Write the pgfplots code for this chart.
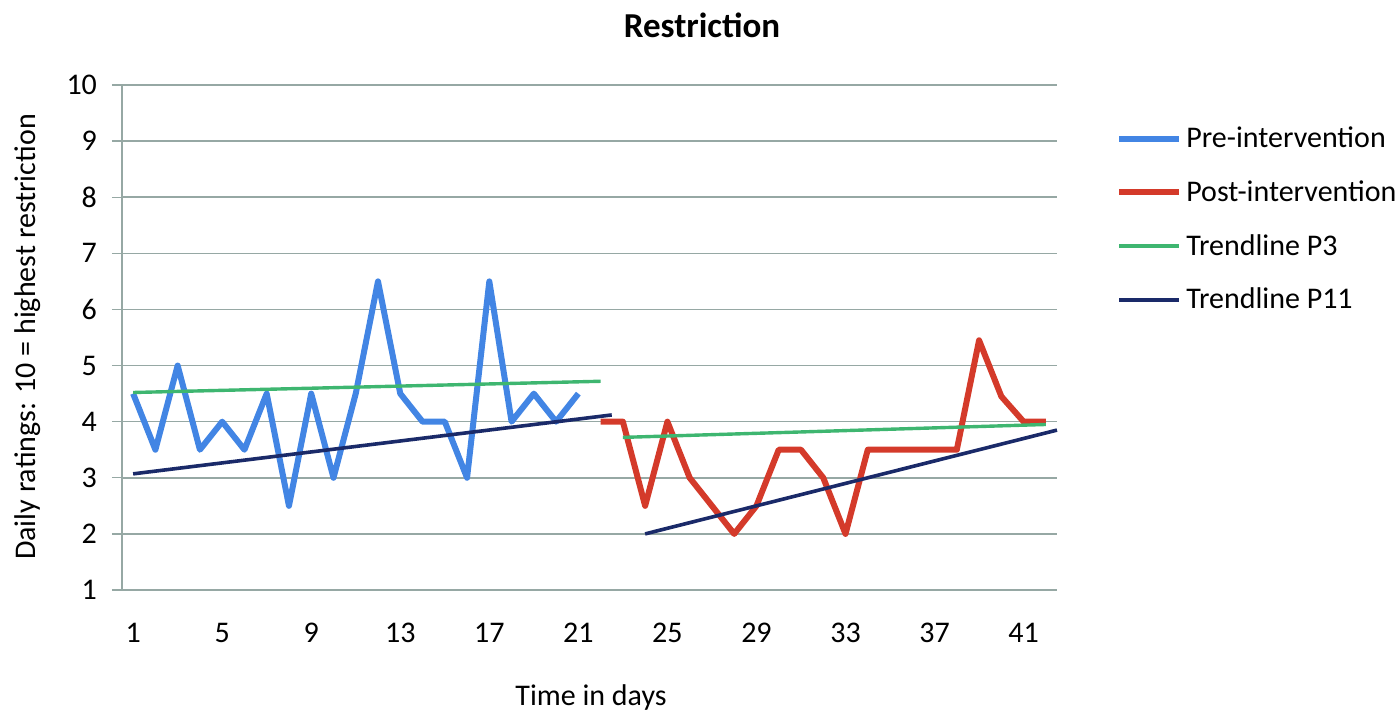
\documentclass[border=0pt]{standalone}
\usepackage{fontspec}
\setmainfont{Carlito}
\usepackage{pgfplots}
\pgfplotsset{compat=1.18}
\definecolor{preblue}{RGB}{66,133,228}
\definecolor{postred}{RGB}{212,58,42}
\definecolor{trgreen}{RGB}{62,182,112}
\definecolor{trnavy}{RGB}{26,42,105}
\definecolor{gridc}{RGB}{150,168,164}
\begin{document}
\begin{tikzpicture}
\begin{axis}[
  scale only axis,
  width=467.5pt, height=252.5pt,
  xmin=0.5, xmax=42.5, ymin=1, ymax=10,
  axis x line*=bottom, axis y line*=left,
  axis line style={-, draw=gridc, line width=0.8pt},
  xtick={1,5,...,41},
  x tick style={draw=none},
  extra x ticks={0.5,4.5,...,40.5},
  extra x tick labels={},
  extra x tick style={grid=none, tick style={draw=gridc, line width=0.7pt}, major tick length=5pt, tick align=outside},
  ytick={1,2,...,10},
  y tick style={draw=gridc, line width=0.7pt},
  tick align=outside, major tick length=5pt,
  ymajorgrids, grid style={draw=gridc, line width=0.8pt},
  /pgf/number format/assume math mode=true,
  ticklabel style={font=\fontsize{15}{18}\selectfont, text=black},
  yticklabel style={xshift=-4pt},
  xticklabel style={yshift=-8pt},
  clip=false,
  legend style={at={(1.063,0.926)}, anchor=north west, draw=none, fill=none,
    font=\fontsize{15}{18}\selectfont, row sep=11pt, inner sep=0pt},
  legend cell align=left,
  legend image code/.code={\draw[#1] (0pt,0pt) -- (30pt,0pt);},
]
\addplot[preblue, line width=3pt, line join=round] coordinates {
 (1,4.5) (2,3.5) (3,5) (4,3.5) (5,4) (6,3.5) (7,4.5) (8,2.5) (9,4.5) (10,3)
 (11,4.5) (12,6.5) (13,4.5) (14,4) (15,4) (16,3) (17,6.5) (18,4) (19,4.5) (20,4) (21,4.5)};
\addlegendentry{Pre-intervention}
\addplot[postred, line width=3pt, line join=round] coordinates {
 (22,4) (23,4) (24,2.5) (25,4) (26,3) (27,2.5) (28,2) (29,2.5) (30,3.5) (31,3.5)
 (32,3) (33,2) (34,3.5) (35,3.5) (36,3.5) (37,3.5) (38,3.5) (39,5.45) (40,4.45) (41,4) (42,4)};
\addlegendentry{Post-intervention}
\addplot[trgreen, line width=1.7pt] coordinates {(1,4.52) (22,4.72)};
\addlegendentry{Trendline P3}
\addplot[trnavy, line width=1.8pt] coordinates {(1,3.07) (22.5,4.12)};
\addlegendentry{Trendline P11}
\addplot[trgreen, line width=1.7pt, forget plot] coordinates {(23,3.72) (42,3.95)};
\addplot[trnavy, line width=1.8pt, forget plot] coordinates {(24,2.0) (42.5,3.85)};
\end{axis}
\node[font=\fontsize{17.5}{20}\selectfont\bfseries] at (290pt,282.5pt) {Restriction};
\node[font=\fontsize{15}{18}\selectfont] at (234.5pt,-53.5pt) {Time in days};
\node[font=\fontsize{15}{18}\selectfont, rotate=90] at (-47pt,126.5pt) {Daily ratings: 10 = highest restriction};
\pgfresetboundingbox
\useasboundingbox (-61pt,-64.5pt) rectangle (637.5pt,295pt);
\end{tikzpicture}
\end{document}
